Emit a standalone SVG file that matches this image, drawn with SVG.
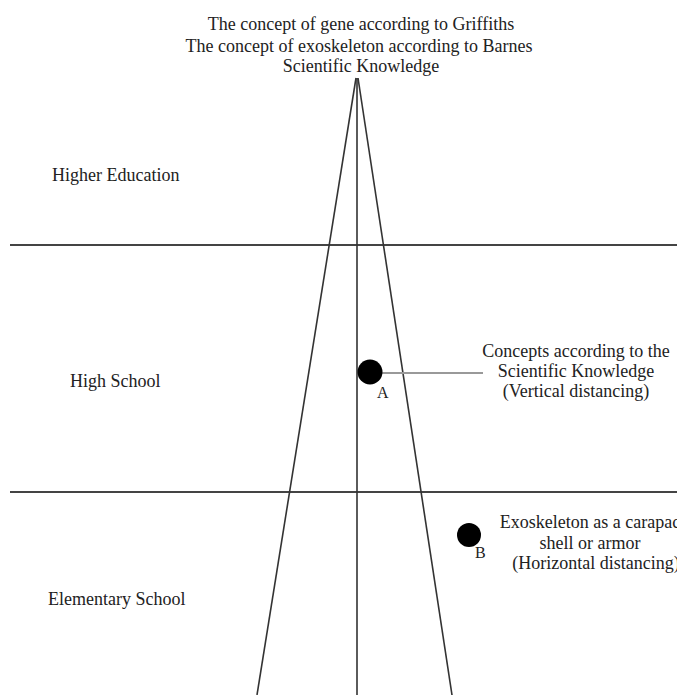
<svg xmlns="http://www.w3.org/2000/svg" width="677" height="695" viewBox="0 0 677 695">
<style>
text{font-family:"Liberation Serif","Times New Roman",serif;font-size:18px;fill:#222}
.c{text-anchor:middle}
.s{font-size:16px}
.ln{stroke:#333;stroke-width:1.6;fill:none}
.hz{stroke:#444;stroke-width:2;fill:none}
</style>
<rect width="677" height="695" fill="#fff"/>
<g id="connectors">
<line class="hz" x1="10" y1="245" x2="677" y2="245"/>
<line class="hz" x1="10" y1="492" x2="677" y2="492"/>
<line class="ln" x1="356" y1="78" x2="257" y2="695"/>
<line class="ln" x1="358" y1="78" x2="452" y2="695"/>
<line class="ln" x1="357" y1="78" x2="357" y2="695"/>
<line x1="380" y1="373" x2="483" y2="373" stroke="#999" stroke-width="2"/>
</g>
<g id="title">
<text class="c" x="361" y="30">The concept of gene according to Griffiths</text>
<text class="c" x="359" y="51.5">The concept of exoskeleton according to Barnes</text>
<text class="c" x="361" y="72">Scientific Knowledge</text>
</g>
<g id="levels">
<text x="52" y="181">Higher Education</text>
<text x="70" y="387">High School</text>
<text x="48" y="605">Elementary School</text>
</g>
<g id="nodeA">
<circle cx="370" cy="372" r="12.5" fill="#000"/>
<text class="s" x="377" y="398">A</text>
</g>
<g id="labelA">
<text class="c" x="576" y="357">Concepts according to the</text>
<text class="c" x="576" y="377">Scientific Knowledge</text>
<text class="c" x="576" y="397">(Vertical distancing)</text>
</g>
<g id="nodeB">
<circle cx="469" cy="535" r="12" fill="#000"/>
<text class="s" x="475" y="558">B</text>
</g>
<g id="labelB">
<text class="c" x="594" y="528">Exoskeleton as a carapace</text>
<text class="c" x="590" y="549">shell or armor</text>
<text class="c" x="596" y="569">(Horizontal distancing)</text>
</g>
</svg>
